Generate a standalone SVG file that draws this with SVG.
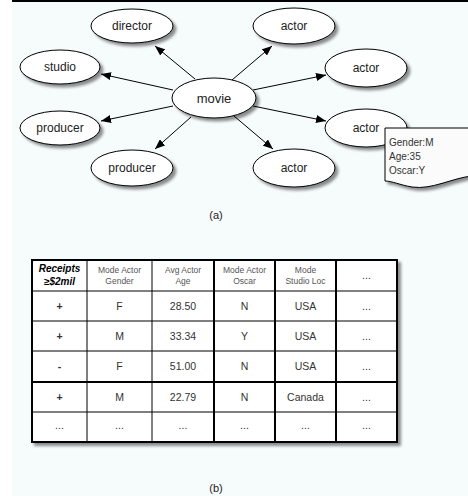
<svg xmlns="http://www.w3.org/2000/svg" width="468" height="496" viewBox="0 0 468 496">
<defs>
<style>
.node ellipse{fill:#ffffff;stroke:#000;stroke-width:1}
.lbl{font-family:"Liberation Sans",Arial,sans-serif;font-size:12px;fill:#222;text-anchor:middle}
.note{font-family:"Liberation Sans",Arial,sans-serif;font-size:10px;fill:#333}
.hd{font-family:"Liberation Sans",Arial,sans-serif;font-size:8.5px;fill:#555;text-anchor:middle}
.hdb{font-family:"Liberation Sans",Arial,sans-serif;font-size:10px;font-weight:bold;font-style:italic;fill:#000;text-anchor:middle}
.td{font-family:"Liberation Sans",Arial,sans-serif;font-size:10.5px;fill:#333;text-anchor:middle}
.pl{font-weight:bold}
.cap{font-family:"Liberation Sans",Arial,sans-serif;font-size:11px;fill:#222;text-anchor:middle}
.edge{stroke:#000;stroke-width:1;fill:none;marker-end:url(#arr)}
.thin{stroke:#000;stroke-width:1}
.thick{stroke:#000;stroke-width:2}
</style>
<marker id="arr" markerWidth="10" markerHeight="8" refX="10" refY="4" orient="auto" markerUnits="userSpaceOnUse">
<path d="M0,0 L10,4 L0,8 Z" fill="#000"/>
</marker>
<filter id="sh" x="-20%" y="-20%" width="150%" height="160%">
<feGaussianBlur in="SourceAlpha" stdDeviation="1.8"/>
<feOffset dx="3" dy="3" result="b"/>
<feComponentTransfer><feFuncA type="linear" slope="0.45"/></feComponentTransfer>
<feMerge><feMergeNode/><feMergeNode in="SourceGraphic"/></feMerge>
</filter>
</defs>
<rect x="12" y="0" width="456" height="496" fill="#f6fbfb"/>
<rect x="12" y="0" width="456" height="2" fill="#000"/>
<g id="connectors">
<path class="edge" d="M195,79 L155,46"/>
<path class="edge" d="M173,90 L101,74"/>
<path class="edge" d="M173,106 L101,121"/>
<path class="edge" d="M191,117 L155,149"/>
<path class="edge" d="M232,80 L272,46"/>
<path class="edge" d="M253,90 L326,75"/>
<path class="edge" d="M253,106 L326,121"/>
<path class="edge" d="M234,116 L273,149"/>
</g>
<g id="movie" class="node"><ellipse cx="214" cy="98" rx="42" ry="20" filter="url(#sh)"/><text class="lbl" x="214" y="102.5" style="font-size:13px">movie</text></g>
<g id="director" class="node"><ellipse cx="132" cy="26" rx="41" ry="17" filter="url(#sh)"/><text class="lbl" x="132" y="30">director</text></g>
<g id="studio" class="node"><ellipse cx="60" cy="67" rx="40" ry="17" filter="url(#sh)"/><text class="lbl" x="60" y="71">studio</text></g>
<g id="producer1" class="node"><ellipse cx="60" cy="128" rx="40" ry="17" filter="url(#sh)"/><text class="lbl" x="60" y="132">producer</text></g>
<g id="producer2" class="node"><ellipse cx="132" cy="168" rx="41" ry="18" filter="url(#sh)"/><text class="lbl" x="132" y="172">producer</text></g>
<g id="actor1" class="node"><ellipse cx="294" cy="26" rx="41" ry="18" filter="url(#sh)"/><text class="lbl" x="294" y="30">actor</text></g>
<g id="actor2" class="node"><ellipse cx="366" cy="68" rx="41" ry="19" filter="url(#sh)"/><text class="lbl" x="366" y="72">actor</text></g>
<g id="actor3" class="node"><ellipse cx="366" cy="128" rx="41" ry="19" filter="url(#sh)"/><text class="lbl" x="366" y="132">actor</text></g>
<g id="actor4" class="node"><ellipse cx="294" cy="168" rx="41" ry="19" filter="url(#sh)"/><text class="lbl" x="294" y="172">actor</text></g>
<g id="note">
<path d="M385,128 L472,128 L472,176 C452,178 432,190 412,187 C400,185 392,181 385,181 Z" fill="#fbfbfb" stroke="#000" stroke-width="1" filter="url(#sh)"/>
<text class="note" x="389" y="146">Gender:M</text>
<text class="note" x="389" y="160">Age:35</text>
<text class="note" x="389" y="174">Oscar:Y</text>
</g>
<text class="cap" x="216" y="219">(a)</text>
<g id="table">
<rect x="32" y="260" width="365" height="182" fill="#ffffff" stroke="#000" stroke-width="2" filter="url(#sh)"/>
<line class="thin" x1="32" y1="291" x2="397" y2="291"/>
<line class="thin" x1="32" y1="321" x2="397" y2="321"/>
<line class="thin" x1="32" y1="351" x2="397" y2="351"/>
<line class="thick" x1="32" y1="382" x2="397" y2="382"/>
<line class="thin" x1="32" y1="412" x2="397" y2="412"/>
<line class="thin" x1="87" y1="260" x2="87" y2="442"/>
<line class="thin" x1="152" y1="260" x2="152" y2="442"/>
<line class="thick" x1="214" y1="260" x2="214" y2="442"/>
<line class="thick" x1="275" y1="260" x2="275" y2="442"/>
<line class="thick" x1="336" y1="260" x2="336" y2="442"/>
<text class="hdb" x="59.5" y="272">Receipts</text>
<text class="hdb" x="59.5" y="285">≥$2mil</text>
<text class="hd" x="119.5" y="273">Mode Actor</text>
<text class="hd" x="119.5" y="284">Gender</text>
<text class="hd" x="183" y="273">Avg Actor</text>
<text class="hd" x="183" y="284">Age</text>
<text class="hd" x="244.5" y="273">Mode Actor</text>
<text class="hd" x="244.5" y="284">Oscar</text>
<text class="hd" x="305.5" y="273">Mode</text>
<text class="hd" x="305.5" y="284">Studio Loc</text>
<text class="td" x="366.5" y="279">...</text>
<text class="td pl" x="59.5" y="310">+</text><text class="td" x="119.5" y="310">F</text><text class="td" x="183" y="310">28.50</text><text class="td" x="244.5" y="310">N</text><text class="td" x="305.5" y="310">USA</text><text class="td" x="366.5" y="310">...</text>
<text class="td pl" x="59.5" y="340">+</text><text class="td" x="119.5" y="340">M</text><text class="td" x="183" y="340">33.34</text><text class="td" x="244.5" y="340">Y</text><text class="td" x="305.5" y="340">USA</text><text class="td" x="366.5" y="340">...</text>
<text class="td pl" x="59.5" y="370">-</text><text class="td" x="119.5" y="370">F</text><text class="td" x="183" y="370">51.00</text><text class="td" x="244.5" y="370">N</text><text class="td" x="305.5" y="370">USA</text><text class="td" x="366.5" y="370">...</text>
<text class="td pl" x="59.5" y="401">+</text><text class="td" x="119.5" y="401">M</text><text class="td" x="183" y="401">22.79</text><text class="td" x="244.5" y="401">N</text><text class="td" x="305.5" y="401">Canada</text><text class="td" x="366.5" y="401">...</text>
<text class="td" x="59.5" y="429">...</text><text class="td" x="119.5" y="429">...</text><text class="td" x="183" y="429">...</text><text class="td" x="244.5" y="429">...</text><text class="td" x="305.5" y="429">...</text><text class="td" x="366.5" y="429">...</text>
</g>
<text class="cap" x="216" y="492">(b)</text>
</svg>
